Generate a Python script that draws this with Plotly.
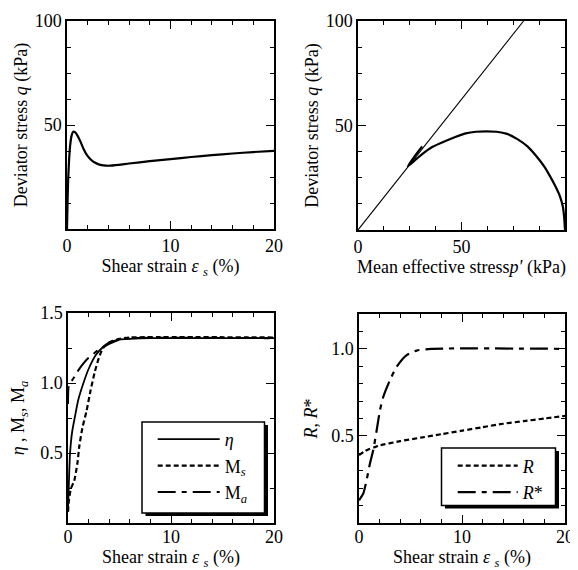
import plotly.graph_objects as go

# page body has an 8px margin: the figure is drawn from page pixel (8, 8)
OFF = 8
W, H = 578 - OFF, 570 - OFF

# ---------------- data ----------------
# (a) deviator stress vs shear strain
eps_q = [0, 0.05, 0.1, 0.2, 0.3, 0.45, 0.6, 0.8, 1.0, 1.3, 1.6, 2.0, 2.5, 3.0, 3.5, 4.0,
         5, 6, 8, 10, 12, 14, 16, 18, 20]
q_vals = [0, 12, 22, 33, 40, 45, 46.8, 46.5, 45, 42, 38.5, 35, 32.5, 31.2, 30.6, 30.4,
          30.8, 31.5, 32.6, 33.6, 34.6, 35.5, 36.3, 37, 37.6]

# (b) effective stress path and critical state line
p_path = [100, 99.6, 99, 97.6, 95.3, 92.6, 90, 86, 82, 77, 72, 67, 62, 57, 52, 47, 42, 36,
          30, 26.5, 24, 27.5, 31]
q_path = [0, 6, 11, 16, 21, 26, 30.3, 35.5, 39.9, 43.5, 46, 47, 47.2, 47, 46.2, 44.5, 42.5,
          39.8, 35.5, 32.5, 30.5, 35.5, 40]
csl_p = [0, 80]
csl_q = [0, 100]

# (c) stress ratio eta, Ms, Ma vs shear strain
eps_eta = [0, 0.05, 0.1, 0.2, 0.4, 0.7, 1.0, 1.5, 2.0, 2.7, 3.3, 4, 5, 6, 8, 20]
eta = [0.1, 0.2, 0.32, 0.5, 0.65, 0.77, 0.88, 1.0, 1.1, 1.2, 1.25, 1.29, 1.31, 1.315, 1.32, 1.32]
eps_ms = [0, 0.1, 0.3, 0.6, 0.9, 1.1, 1.4, 1.8, 2.2, 2.6, 3.0, 3.4, 4, 5, 6, 20]
ms = [0.08, 0.17, 0.25, 0.3, 0.42, 0.55, 0.68, 0.8, 0.95, 1.08, 1.18, 1.25, 1.29, 1.315, 1.325, 1.325]
eps_ma = [0, 0.05, 0.2, 0.5, 1.0, 1.5, 2.0, 2.5, 3.0, 3.5, 4, 5, 6, 20]
ma = [0.85, 0.97, 1.0, 1.03, 1.09, 1.14, 1.18, 1.21, 1.24, 1.26, 1.28, 1.31, 1.32, 1.32]

# (d) R and R* vs shear strain
eps_r = [0, 0.5, 1, 1.5, 2, 4, 6, 8, 10, 12, 14, 16, 18, 20]
r_vals = [0.39, 0.41, 0.425, 0.435, 0.445, 0.47, 0.49, 0.51, 0.53, 0.55, 0.57, 0.585, 0.6, 0.615]
eps_rs = [0, 0.42, 0.74, 1.07, 1.39, 1.72, 2.04, 2.36, 3.0, 3.66, 4.63, 5.6, 7, 20]
rs_vals = [0.13, 0.17, 0.247, 0.343, 0.42, 0.534, 0.649, 0.725, 0.82, 0.897, 0.964, 0.99, 1.0, 1.0]

# tick values / labels
strain_ticks = [0, 10, 20]
strain_labels = ["0", "10", "20"]
kpa_x_ticks = [0, 50, 100]
kpa_x_labels = ["0", "50", "100"]
kpa_y_ticks = [50, 100]
kpa_y_labels = ["50", "100"]
ratio_ticks = [0.5, 1.0, 1.5]
ratio_labels = ["0.5", "1.0", "1.5"]
r_ticks = [0.5, 1.0]
r_labels = ["0.5", "1.0"]

# ---------------- layout helpers ----------------
FONT = "Liberation Serif"
FS = 18


def fx(x):
    return (x - OFF) / W


def fy(y):
    return 1 - (y - OFF) / H


def axis(domain, rng, tickvals, ticktext, minor_dtick, title, standoff, lab_standoff=0):
    return dict(
        domain=domain, range=rng, tickmode="array", tickvals=tickvals, ticktext=ticktext,
        ticks="inside", ticklen=8, tickwidth=1.3, tickcolor="black",
        minor=dict(dtick=minor_dtick, tick0=0, ticks="inside", ticklen=4, tickwidth=1, tickcolor="black"),
        showline=True, linewidth=1.5, linecolor="black", mirror="ticks",
        showgrid=False, zeroline=False, automargin=False,
        ticklabelstandoff=lab_standoff,
        tickfont=dict(family=FONT, size=FS, color="black"),
        title=dict(text=title, font=dict(family=FONT, size=FS, color="black"), standoff=standoff),
    )


strain_title = "Shear strain <i>ε</i> <sub><i>s</i></sub> (%)"
q_title = "Deviator stress <i>q</i> (kPa)"

fig = go.Figure()

LW = 2.2
fig.add_trace(go.Scatter(x=eps_q, y=q_vals, mode="lines", line=dict(color="black", width=LW, shape="spline", smoothing=0.6),
                         xaxis="x", yaxis="y", showlegend=False))
fig.add_trace(go.Scatter(x=csl_p, y=csl_q, mode="lines", line=dict(color="black", width=1.1),
                         xaxis="x2", yaxis="y2", showlegend=False))
fig.add_trace(go.Scatter(x=p_path, y=q_path, mode="lines", line=dict(color="black", width=LW, shape="spline", smoothing=0.5),
                         xaxis="x2", yaxis="y2", showlegend=False))

fig.add_trace(go.Scatter(x=eps_eta, y=eta, mode="lines", name="<i>η</i>",
                         line=dict(color="black", width=1.8, shape="spline", smoothing=0.6),
                         xaxis="x3", yaxis="y3", legend="legend"))
fig.add_trace(go.Scatter(x=eps_ms, y=ms, mode="lines", name="M<sub><i>s</i></sub>",
                         line=dict(color="black", width=2.2, dash="5px,3px", shape="spline", smoothing=0.6),
                         xaxis="x3", yaxis="y3", legend="legend"))
fig.add_trace(go.Scatter(x=eps_ma, y=ma, mode="lines", name="M<sub><i>a</i></sub>",
                         line=dict(color="black", width=2.0, dash="18px,6px,5px,6px", shape="spline", smoothing=0.6),
                         xaxis="x3", yaxis="y3", legend="legend"))

fig.add_trace(go.Scatter(x=eps_r, y=r_vals, mode="lines", name="<i>R</i>",
                         line=dict(color="black", width=2.2, dash="5px,3px", shape="spline", smoothing=0.6),
                         xaxis="x4", yaxis="y4", legend="legend2"))
fig.add_trace(go.Scatter(x=eps_rs, y=rs_vals, mode="lines", name="<i>R</i>*",
                         line=dict(color="black", width=2.2, dash="18px,6px,5px,6px", shape="spline", smoothing=0.6),
                         xaxis="x4", yaxis="y4", legend="legend2"))

legend_style = dict(bgcolor="rgba(0,0,0,0)", borderwidth=0,
                    font=dict(family=FONT, size=FS, color="black"),
                    xanchor="left", yanchor="top", tracegroupgap=0)

shapes = []
for (x0, y0, x1, y1) in [(142, 422, 264.5, 513), (441.5, 448, 555.5, 505.5)]:
    shapes.append(dict(type="rect", xref="paper", yref="paper", x0=fx(x0 + 3.5), x1=fx(x1 + 3.5),
                       y0=fy(y0 + 3), y1=fy(y1 + 3), fillcolor="black", line=dict(width=0), layer="above"))
    shapes.append(dict(type="rect", xref="paper", yref="paper", x0=fx(x0), x1=fx(x1),
                       y0=fy(y0), y1=fy(y1), fillcolor="white", line=dict(color="black", width=1.5), layer="above"))

fig.update_layout(
    width=W, height=H, margin=dict(l=0, r=0, t=0, b=0),
    paper_bgcolor="white", plot_bgcolor="white",
    font=dict(family=FONT, size=FS, color="black"),
    xaxis=axis([fx(67), fx(274)], [0, 20], strain_ticks, strain_labels, 2, strain_title, 4),
    yaxis=axis([fy(229), fy(21)], [0, 100], kpa_y_ticks, kpa_y_labels, 12.5, q_title, 2.5),
    xaxis2=axis([fx(358), fx(565)], [0, 100], kpa_x_ticks, kpa_x_labels, 12.5,
                "Mean effective stress<i>p′</i> (kPa)", 4),
    yaxis2=axis([fy(230), fy(21)], [0, 100], kpa_y_ticks, kpa_y_labels, 12.5, q_title, 2.5),
    xaxis3=axis([fx(68), fx(274)], [0, 20], strain_ticks, strain_labels, 2, strain_title, 6, -3),
    yaxis3=axis([fy(523), fy(313)], [0, 1.5], ratio_ticks, ratio_labels, 0.25,
                "<i>η</i> , M<sub><i>s</i></sub>, M<sub><i>a</i></sub>", 13),
    xaxis4=axis([fx(359), fx(565)], [0, 20], strain_ticks, strain_labels, 2, strain_title, 6, -3),
    yaxis4=axis([fy(523), fy(314)], [0, 1.2], r_ticks, r_labels, 0.1, "<i>R</i>, <i>R</i>*", 9),
    legend=dict(x=fx(152.7), y=fy(421), itemwidth=62, **legend_style),
    legend2=dict(x=fx(452.7), y=fy(447.5), itemwidth=60, **legend_style),
    shapes=shapes,
)
fig.update_layout(xaxis=dict(anchor="y"), yaxis=dict(anchor="x"),
                  xaxis2=dict(anchor="y2"), yaxis2=dict(anchor="x2"),
                  xaxis3=dict(anchor="y3"), yaxis3=dict(anchor="x3"),
                  xaxis4=dict(anchor="y4"), yaxis4=dict(anchor="x4"))

fig.write_html("out.html")
